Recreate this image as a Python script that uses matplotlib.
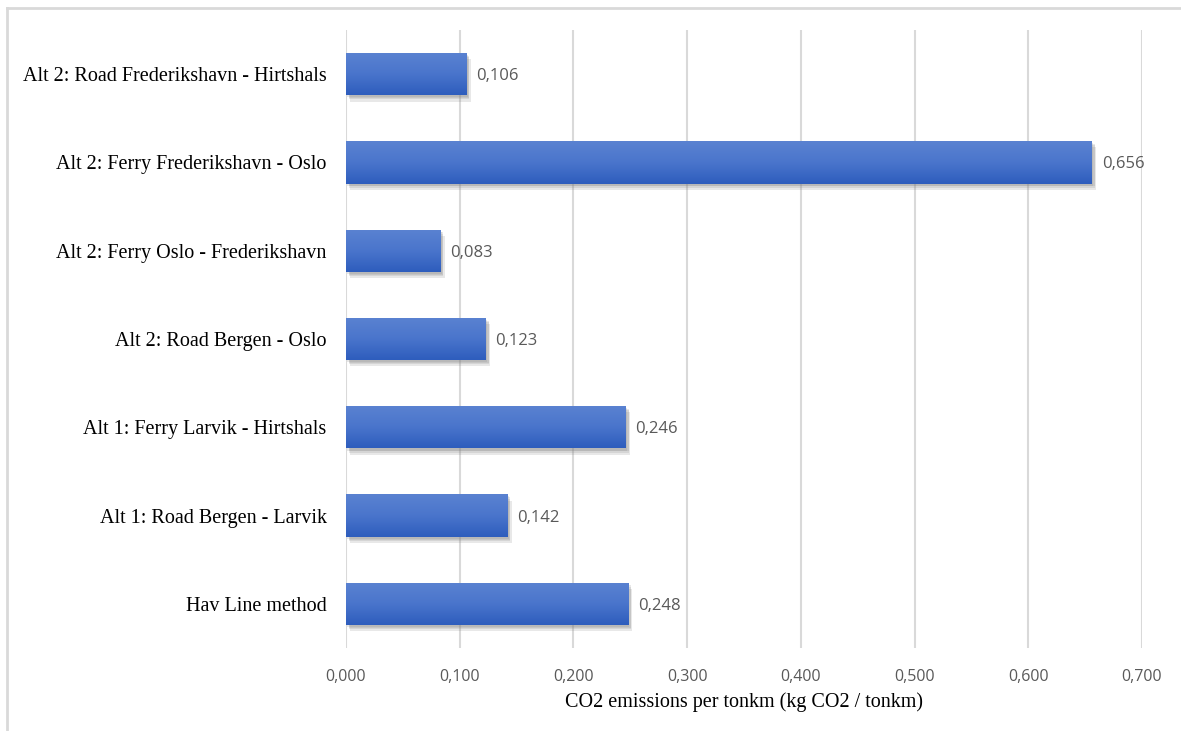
import numpy as np
import matplotlib
matplotlib.use("Agg")
import matplotlib.pyplot as plt
from matplotlib import patheffects
from matplotlib.colors import LinearSegmentedColormap
from matplotlib.lines import Line2D

routes = [
    "Hav Line method",
    "Alt 1: Road Bergen - Larvik",
    "Alt 1: Ferry Larvik - Hirtshals",
    "Alt 2: Road Bergen - Oslo",
    "Alt 2: Ferry Oslo - Frederikshavn",
    "Alt 2: Ferry Frederikshavn - Oslo",
    "Alt 2: Road Frederikshavn - Hirtshals",
]
emissions = [0.248, 0.142, 0.246, 0.123, 0.083, 0.656, 0.106]
xticks = [0.0, 0.1, 0.2, 0.3, 0.4, 0.5, 0.6, 0.7]

def comma(v):
    return "{:.3f}".format(v).replace(".", ",")

fig = plt.figure(figsize=(11.81, 7.31), dpi=100)
ax = fig.add_axes([0.293, 0.1135, 0.674, 0.8455])

# soft drop shadow: a few stacked faint offsets
shadow = [patheffects.SimplePatchShadow(offset=(dx, -dy), shadow_rgbFace="#808080", alpha=0.18)
          for dx, dy in [(1, 1.5), (2, 3), (3, 4.5), (2, 2)]]
ypos = np.arange(len(routes))
bars = ax.barh(ypos, emissions, height=0.48, color="#4472c4", zorder=3,
               path_effects=shadow + [patheffects.Normal()])

# vertical gradient on each bar, lighter at the top
grad = LinearSegmentedColormap.from_list("bar", ["#2e5dbd", "#4a75cc", "#5a82d1"])
g = np.linspace(0, 1, 64).reshape(-1, 1)
for b in bars:
    x0, y0 = b.get_x(), b.get_y()
    im = ax.imshow(g, cmap=grad, aspect="auto", origin="lower", zorder=4,
                   extent=[x0, x0 + b.get_width(), y0, y0 + b.get_height()])
    im.set_clip_path(b)

for y, v in zip(ypos, emissions):
    ax.annotate(comma(v), (v, y), xytext=(7, 0), textcoords="offset points",
                ha="left", va="center_baseline", fontsize=12, color="#595959",
                family="Open Sans", zorder=5)

ax.set_xlim(0, 0.7)
ax.set_ylim(-0.5, len(routes) - 0.5)
ax.set_xticks(xticks)
ax.set_xticklabels([comma(t) for t in xticks], family="Open Sans", fontsize=11.5, color="#595959")
ax.set_yticks(ypos)
ax.set_yticklabels(routes, family="Liberation Serif", fontsize=14.5, color="black")
ax.tick_params(axis="both", length=0)
ax.tick_params(axis="x", pad=15)
ax.tick_params(axis="y", pad=14)
ax.grid(axis="x", color="#d9d9d9", lw=1.5, zorder=0)
for s in ax.spines.values():
    s.set_visible(False)

ax.set_xlabel("CO2 emissions per tonkm (kg CO2 / tonkm)", family="Liberation Serif",
              fontsize=14.5, labelpad=5)

# outer frame, only the top and left edges fall inside the image
W, H = fig.get_size_inches() * fig.dpi
fig.add_artist(Line2D([7 / W, 1], [1 - 8 / H, 1 - 8 / H], color="#d9d9d9", lw=2, transform=fig.transFigure))
fig.add_artist(Line2D([7 / W, 7 / W], [0, 1 - 8 / H], color="#d9d9d9", lw=2, transform=fig.transFigure))

fig.savefig("out.png", dpi=100)
